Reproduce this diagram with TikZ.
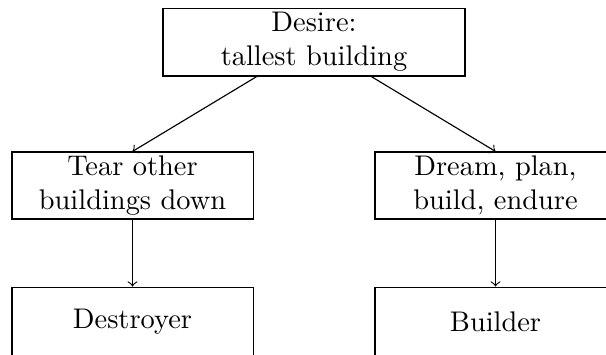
\documentclass[tikz,border=0pt]{standalone}
\begin{document}
\begin{tikzpicture}[x=0.3521pt,y=-0.3521pt,
  box/.style={draw, align=center, inner sep=0pt},
  topbox/.style={box, minimum width=106.3pt, minimum height=23.9pt},
  midbox/.style={box, minimum width=84.9pt, minimum height=23.6pt},
  endbox/.style={box, minimum width=84.9pt, minimum height=24.6pt},
  link/.style={->}]
\useasboundingbox (0,0) rectangle (606,354);
\clip (0,0) rectangle (606,354);

% goal at the top
\node[topbox] (goal) at (314,42) {Desire:\\tallest building};

% the two ways to get there
\node[midbox] (tear)  at (132.5,185.5) {Tear other\\buildings down};
\node[midbox] (dream) at (495.5,185.5) {Dream, plan,\\build, endure};

% what each way makes you
\node[endbox] (destroyer) at (132.5,322) {Destroyer};
\node[endbox] (builder)   at (495.5,322) {Builder};

\draw[link] (goal) -- (tear.north);
\draw[link] (goal) -- (dream.north);
\draw[link] (tear) -- (destroyer);
\draw[link] (dream) -- (builder);
\end{tikzpicture}
\end{document}
